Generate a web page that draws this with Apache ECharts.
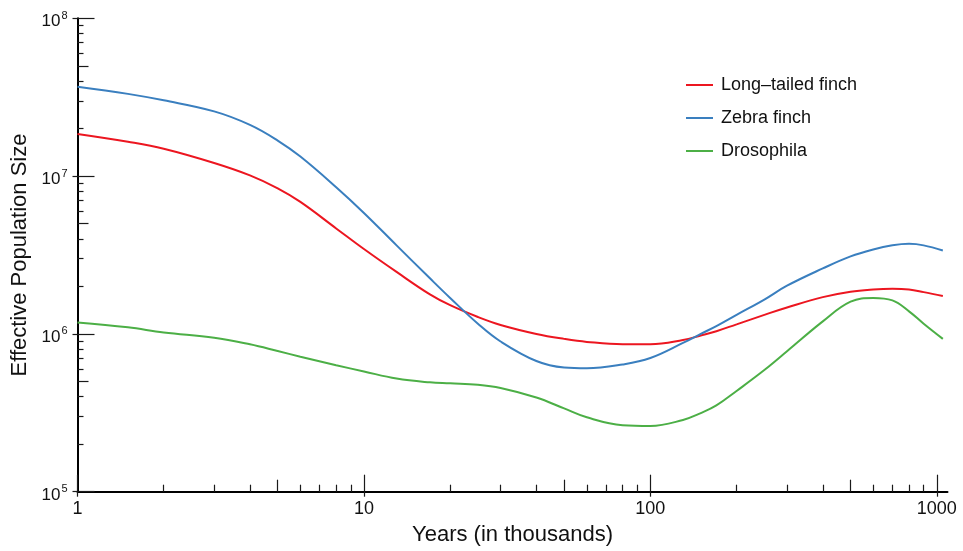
<!DOCTYPE html>
<html>
<head>
<meta charset="utf-8">
<title>Effective Population Size</title>
<script src="https://cdn.jsdelivr.net/npm/echarts@6/dist/echarts.min.js"></script>
<style>
html, body { margin: 0; padding: 0; background: #fff; }
#chart { width: 963px; height: 551px; }
</style>
</head>
<body>
<div id="chart"></div>
<script>
// years before present, in thousands
var years = [1, 1.5, 2, 3, 4, 5, 6, 8, 10, 13, 17, 20, 25, 30, 40, 50, 60, 80, 100,
    130, 150, 170, 200, 250, 300, 400, 500, 600, 700, 800, 900, 1050];

var longTailed = [1.85e7, 1.65e7, 1.49e7, 1.21e7, 1.01e7, 8.36e6, 6.86e6, 4.66e6, 3.45e6,
    2.47e6, 1.78e6, 1.52e6, 1.28e6, 1.14e6, 1.0e6, 9.3e5, 8.9e5, 8.6e5, 8.6e5,
    9.15e5, 9.77e5, 1.04e6, 1.15e6, 1.32e6, 1.47e6, 1.71e6, 1.85e6, 1.91e6, 1.93e6, 1.91e6, 1.84e6, 1.74e6];

var zebra = [3.68e7, 3.32e7, 3.02e7, 2.57e7, 2.11e7, 1.68e7, 1.33e7, 8.5e6, 5.84e6,
    3.64e6, 2.25e6, 1.69e6, 1.16e6, 8.95e5, 6.73e5, 6.12e5, 6.05e5, 6.4e5, 7.03e5,
    8.76e5, 1.0e6, 1.12e6, 1.32e6, 1.65e6, 2.02e6, 2.6e6, 3.1e6, 3.43e6, 3.64e6, 3.72e6, 3.64e6, 3.38e6];

var drosophila = [1.18e6, 1.10e6, 1.02e6, 9.46e5, 8.59e5, 7.79e5, 7.17e5, 6.33e5, 5.78e5,
    5.21e5, 4.93e5, 4.86e5, 4.76e5, 4.54e5, 3.95e5, 3.37e5, 2.96e5, 2.64e5, 2.61e5,
    2.85e5, 3.15e5, 3.52e5, 4.35e5, 5.9e5, 7.76e5, 1.2e6, 1.6e6, 1.69e6, 1.63e6, 1.39e6, 1.16e6, 9.3e5];

// tick values
var xMajor = [1, 10, 100, 1000];
var xMid = [5, 50, 500];
var xMinor = [2, 3, 4, 6, 7, 8, 9, 20, 30, 40, 60, 70, 80, 90, 200, 300, 400, 600, 700, 800, 900];
var yMajor = [1e5, 1e6, 1e7, 1e8];
var yMid = [5e5, 5e6, 5e7];
var yMinor = [2e5, 3e5, 4e5, 6e5, 7e5, 8e5, 9e5, 2e6, 3e6, 4e6, 6e6, 7e6, 8e6, 9e6,
    2e7, 3e7, 4e7, 6e7, 7e7, 8e7, 9e7];

var names = ['Long\u2013tailed finch', 'Zebra finch', 'Drosophila'];
var colors = ['#ec1620', '#3a7fbf', '#4caf46'];

var font = 'Liberation Sans, Arial, Helvetica, sans-serif';
var tickColor = '#1a1a1a';

function pairs(ys) {
    return years.map(function (x, i) { return [x, ys[i]]; });
}

// extra axes only used to draw ticks of different lengths
function tickAxis(pos, values, len, inside) {
    var isX = pos === 'bottom';
    return {
        type: 'log',
        logBase: 10,
        min: isX ? 1 : 1e5,
        max: isX ? 1090 : 1e8,
        position: pos,
        gridIndex: 0,
        axisLine: { show: false },
        splitLine: { show: false },
        axisLabel: { show: false },
        axisTick: {
            show: true,
            inside: inside,
            length: len,
            customValues: values,
            lineStyle: { color: tickColor, width: 1.2 }
        }
    };
}

var chart = echarts.init(document.getElementById('chart'), null, { renderer: 'canvas' });

var xMain = tickAxis('bottom', xMajor, 17, true);
xMain.axisLine = { show: true, lineStyle: { color: '#000', width: 2 } };
xMain.axisLabel = {
    show: true,
    customValues: xMajor,
    margin: 8,
    color: '#111',
    fontFamily: font,
    fontSize: 18,
    formatter: function (v) { return String(Math.round(v)); }
};
xMain.name = 'Years (in thousands)';
xMain.nameLocation = 'middle';
xMain.nameGap = 32;
xMain.nameTextStyle = { fontFamily: font, fontSize: 22, color: '#111' };

var yMain = tickAxis('left', yMajor, 17, true);
yMain.axisLine = { show: true, lineStyle: { color: '#000', width: 2 } };
yMain.axisLabel = {
    show: true,
    customValues: yMajor,
    margin: 10,
    color: '#111',
    fontFamily: font,
    formatter: function (v) {
        return '{b|10}{s|' + Math.round(Math.log10(v)) + '}';
    },
    rich: {
        b: { fontFamily: font, fontSize: 17, color: '#111', padding: [7, 0, 0, 0] },
        s: { fontFamily: font, fontSize: 11, color: '#111', padding: [0, 0, 5, 1] }
    }
};
yMain.name = 'Effective Population Size';
yMain.nameLocation = 'middle';
yMain.nameGap = 45;
yMain.nameTextStyle = { fontFamily: font, fontSize: 22, color: '#111' };

var option = {
    animation: false,
    backgroundColor: '#fff',
    grid: { left: 77.5, right: 15.5, top: 18.3, bottom: 59.3 },
    legend: {
        orient: 'vertical',
        left: 681,
        top: 71,
        itemWidth: 27,
        itemHeight: 2,
        itemGap: 15,
        icon: 'rect',
        textStyle: { fontFamily: font, fontSize: 18, color: '#111', padding: [0, 0, 0, 3] },
        data: names
    },
    xAxis: [
        xMain,
        tickAxis('bottom', xMid, 12, true),
        tickAxis('bottom', xMinor, 7, true),
        tickAxis('bottom', xMajor, 5, false)
    ],
    yAxis: [
        yMain,
        tickAxis('left', yMid, 11, true),
        tickAxis('left', yMinor, 6, true),
        tickAxis('left', yMajor, 5, false)
    ],
    series: [longTailed, zebra, drosophila].map(function (ys, i) {
        return {
            name: names[i],
            type: 'line',
            xAxisIndex: 0,
            yAxisIndex: 0,
            data: pairs(ys),
            smooth: 0.4,
            symbol: 'none',
            color: colors[i],
            lineStyle: { width: 2, color: colors[i] }
        };
    })
};

chart.setOption(option);
</script>
</body>
</html>
